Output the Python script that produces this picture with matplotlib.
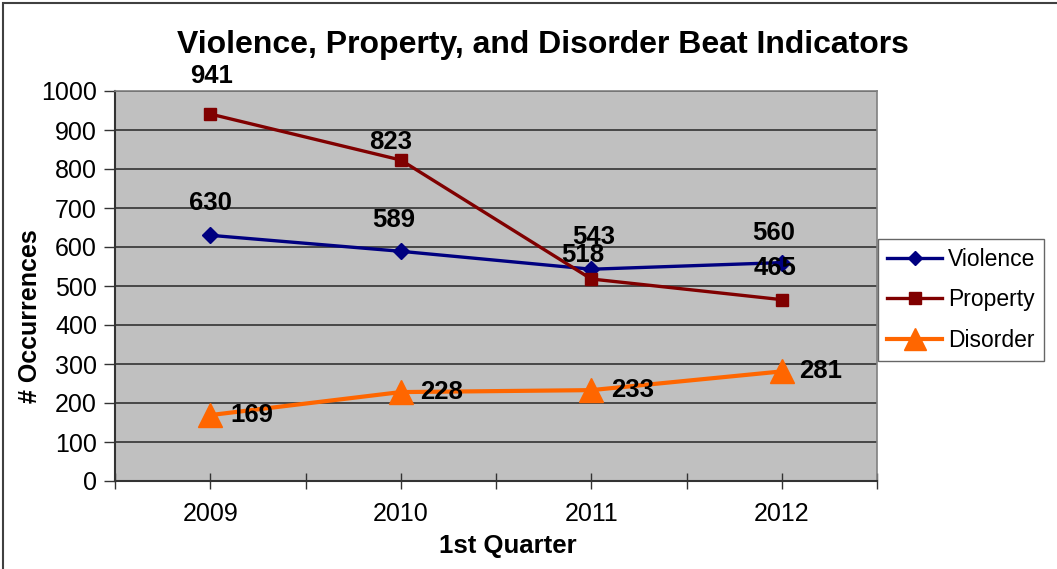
import numpy as np
import matplotlib
matplotlib.use("Agg")
import matplotlib.pyplot as plt
from matplotlib.patches import Rectangle

plt.rcParams['font.family'] = ['Liberation Sans', 'DejaVu Sans']

YEARS = ["2009", "2010", "2011", "2012"]
violence = [630, 589, 543, 560]
prop = [941, 823, 518, 465]
disorder = [169, 228, 233, 281]

# label offsets (pixels) for the data labels, as placed in the original
off_violence = [(0, 32), (-7, 31), (2, 32), (-8, 30)]
off_prop = [(1, 38), (-10, 18), (-9, 24), (-7, 32)]
off_disorder = [(42, 0), (41, 0), (41, 0), (39, 0)]

W, H = 1057, 569
fig = plt.figure(figsize=(W/100, H/100), dpi=100)
fig.patch.set_facecolor("white")

# outer chart border
fig.patches.append(Rectangle((3/W, -0.05), 1.1, (H-3)/H + 0.05, transform=fig.transFigure,
                             fill=False, edgecolor="#404040", linewidth=1.5))

L, R, T, B = 115, 877, 91, 481
ax = fig.add_axes([L/W, (H-B)/H, (R-L)/W, (B-T)/H])
ax.set_facecolor("#C0C0C0")

x = np.arange(len(YEARS))
ax.set_xlim(-0.5, 3.5)
ax.set_ylim(0, 1000)
ax.set_yticks(np.arange(0, 1001, 100))
ax.yaxis.grid(True, color="#333333", linewidth=1.2)
ax.set_axisbelow(True)

for s in ("top", "right"):
    ax.spines[s].set_color("#808080")
    ax.spines[s].set_linewidth(1.2)
for s in ("left", "bottom"):
    ax.spines[s].set_color("#333333")
    ax.spines[s].set_linewidth(1.5)

ax.plot(x, violence, color="#000080", lw=2.4, marker="D", ms=8, label="Violence", zorder=3)
ax.plot(x, prop, color="#800000", lw=2.4, marker="s", ms=9, label="Property", zorder=3)
ax.plot(x, disorder, color="#FF6600", lw=3.0, marker="^", ms=17, label="Disorder", zorder=3)

def labels(vals, offs):
    for xi, v, (dx, dy) in zip(x, vals, offs):
        ax.annotate(str(v), (xi, v), xytext=(dx, dy), textcoords="offset pixels",
                    ha="center", va="center", fontsize=18.5, fontweight="bold", zorder=5)

labels(violence, off_violence)
labels(prop, off_prop)
labels(disorder, off_disorder)

ax.set_xticks(x)
ax.set_xticklabels(YEARS, fontsize=18)
ax.set_xticks(np.arange(-0.5, 3.6, 1.0), minor=True)
ax.tick_params(axis="x", which="both", direction="inout", length=12, width=1, color="#333333", pad=9)
ax.tick_params(axis="y", direction="out", length=8, width=1, color="#333333", labelsize=18, pad=5)

fig.text(543/W, 1 - 45/H, "Violence, Property, and Disorder Beat Indicators",
         ha="center", va="center", fontsize=23, fontweight="bold")
fig.text(508/W, 1 - 546/H, "1st Quarter", ha="center", va="center", fontsize=18.5, fontweight="bold")
fig.text(30/W, 1 - 316/H, "# Occurrences", ha="center", va="center", rotation=90,
         fontsize=18, fontweight="bold")

leg = fig.legend(loc="upper left", bbox_to_anchor=(878/W, 1 - 239/H), fontsize=16.5,
                 frameon=True, fancybox=False, edgecolor="#404040", handlelength=2.4,
                 labelspacing=0.75, borderpad=0.4, handletextpad=0.25, borderaxespad=0,
                 markerscale=0.9)
leg.get_frame().set_linewidth(1.0)

fig.savefig("out.png", dpi=100)
